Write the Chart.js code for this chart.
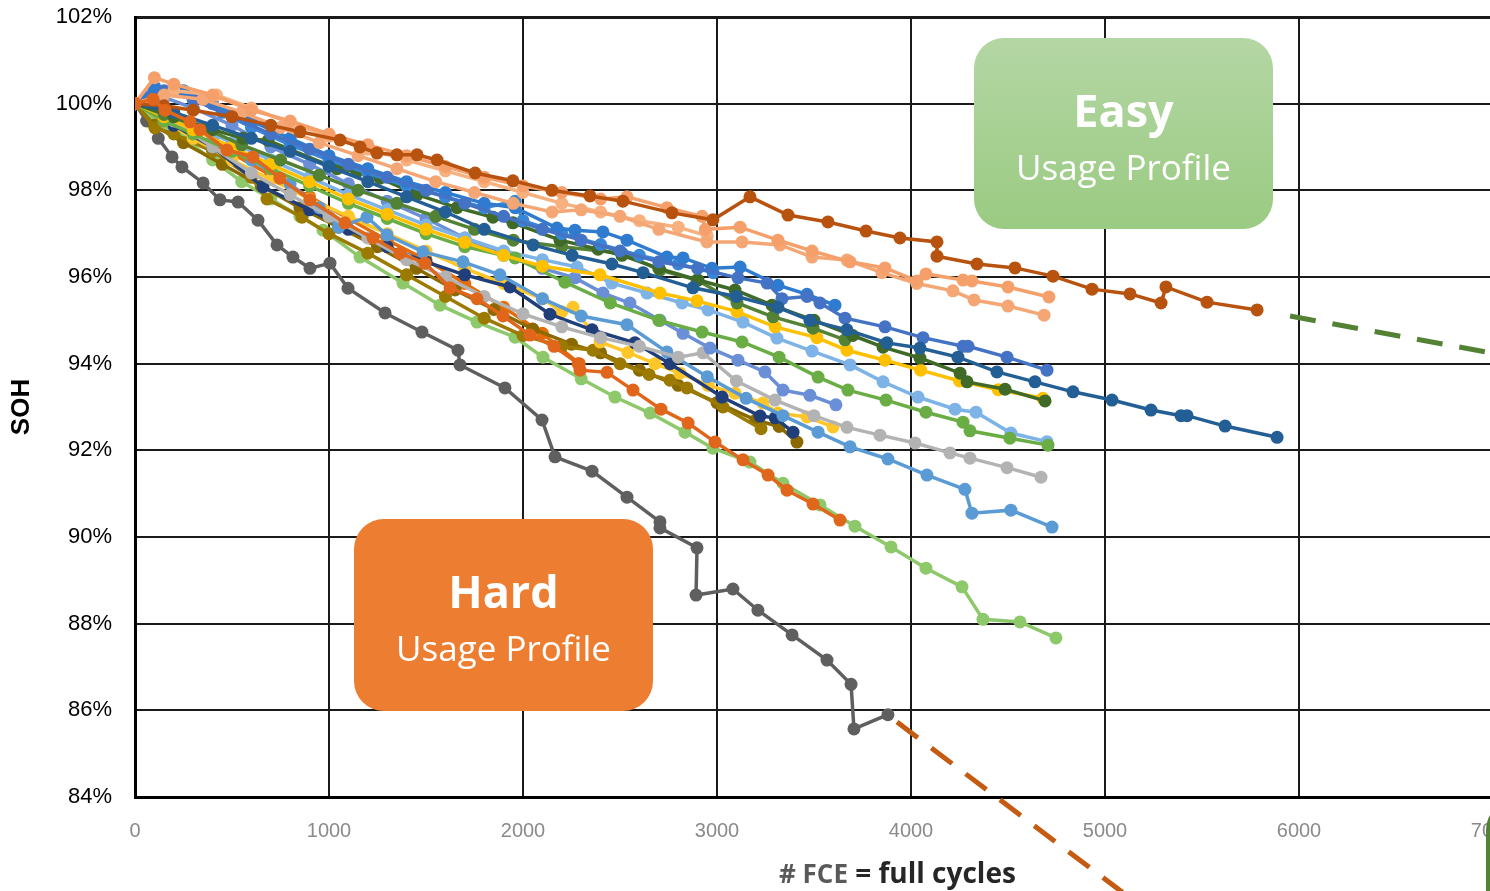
<!DOCTYPE html>
<html>
<head>
<meta charset="utf-8">
<title>SOH vs full cycles</title>
<script src="https://cdn.jsdelivr.net/npm/chart.js@4.4.1/dist/chart.umd.min.js"></script>
<style>
    html, body { margin: 0; padding: 0; background: #fff; overflow: hidden; }
    #wrap { position: relative; width: 1530px; height: 891px; }
    #chart { position: absolute; left: 0; top: 0; }
    .box {
        position: absolute; width: 299px; height: 191px; border-radius: 30px;
        color: #fff; text-align: center; font-family: 'Open Sans', sans-serif;
    }
    .box .big { position: absolute; left: 0; right: 0; top: 42px; font-size: 45px; font-weight: bold; line-height: 60px; }
    .box .small { position: absolute; left: 0; right: 0; top: 106px; font-size: 35px; line-height: 46px; }
    #easy { left: 974px; top: 38px; background: linear-gradient(#b4d6a4, #9acb82); }
    #hard { left: 354px; top: 519px; height: 192px; background: #ed7d31; }
    #edgeBox { position: absolute; left: 1486px; top: 800px; width: 200px; height: 200px; border: 4px solid #548235; border-radius: 30px; }
    #xTitle {
        position: absolute; left: 779px; top: 852px; white-space: nowrap;
        font-family: 'Open Sans', sans-serif; font-weight: bold; font-size: 28px; line-height: 40px; color: #262626;
    }
    #xTitle .fce { color: #595959; font-size: 26px; }
</style>
</head>
<body>
<div id="wrap">
    <canvas id="chart" width="1530" height="891"></canvas>
    <div class="box" id="easy"><div class="big">Easy</div><div class="small">Usage Profile</div></div>
    <div class="box" id="hard"><div class="big">Hard</div><div class="small">Usage Profile</div></div>
    <div id="edgeBox"></div>
    <div id="xTitle"><span class="fce"># FCE</span> = full cycles</div>
</div>
<script>
// Axis ranges and ticks
const xTicks = [0, 1000, 2000, 3000, 4000, 5000, 6000, 7000];
const yTicks = [84, 86, 88, 90, 92, 94, 96, 98, 100, 102];

// Each cell: [full cycles, SOH %]
const darkOrange = [[0,100],[150,99.95],[300,99.85],[500,99.7],[700,99.5],[851,99.35],[1057,99.16],[1160,99.0],[1247,98.86],[1350,98.82],[1454,98.82],[1557,98.7],[1753,98.4],[1948,98.22],[2149,98.0],[2345,97.87],[2515,97.75],[2768,97.48],[2979,97.32],[3170,97.85],[3366,97.43],[3572,97.27],[3768,97.06],[3943,96.9],[4134,96.81],[4134,96.48],[4340,96.3],[4536,96.21],[4732,96.02],[4933,95.72],[5129,95.61],[5289,95.4],[5314,95.77],[5526,95.42],[5784,95.24]];
const lightOrangeA = [[0,100],[100,100.6],[200,100.45],[400,100.2],[600,99.85],[800,99.6],[1000,99.3],[1200,99.05],[1400,98.8],[1600,98.55],[1800,98.3],[2000,98.1],[2200,97.95],[2400,97.8],[2536,97.85],[2742,97.6],[2923,97.4],[2940,97.1],[3119,97.15],[3314,96.85],[3490,96.6],[3686,96.35],[3866,96.21],[4031,95.91],[4077,96.07],[4268,95.93],[4314,95.91],[4500,95.77],[4711,95.54]];
const lightOrangeB = [[0,100],[150,100.2],[350,100.1],[550,99.8],[750,99.45],[950,99.1],[1150,98.8],[1350,98.5],[1550,98.2],[1750,97.95],[1950,97.7],[2150,97.5],[2300,97.55],[2500,97.4],[2700,97.1],[2948,96.81],[3129,96.81],[3325,96.74],[3490,96.46],[3670,96.39],[3850,96.1],[4030,95.85],[4216,95.68],[4325,95.47],[4500,95.33],[4686,95.12]];
const lightOrangeC = [[0,100],[200,100.3],[420,100.2],[600,99.9],[800,99.55],[1000,99.25],[1200,98.95],[1400,98.7],[1600,98.45],[1800,98.2],[2000,97.95],[2200,97.7],[2400,97.5],[2600,97.3],[2800,97.15],[2950,96.95]];
const steelBlue = [[0,100],[200,99.8],[400,99.5],[600,99.2],[800,98.9],[1000,98.55],[1200,98.2],[1400,97.85],[1600,97.5],[1800,97.1],[2052,96.74],[2253,96.5],[2458,96.3],[2619,96.1],[2876,95.75],[3100,95.55],[3314,95.3],[3479,95.0],[3670,94.78],[3876,94.48],[4046,94.36],[4242,94.15],[4443,93.81],[4639,93.58],[4835,93.35],[5036,93.16],[5237,92.93],[5392,92.8],[5423,92.8],[5619,92.56],[5887,92.3]];
const royalBlue = [[0,100],[150,100.3],[300,100.1],[500,99.7],[700,99.3],[900,98.95],[1100,98.6],[1300,98.3],[1500,98.0],[1700,97.7],[1900,97.4],[2100,97.1],[2300,96.85],[2500,96.6],[2700,96.35],[2900,96.2],[3108,95.98],[3258,95.86],[3335,95.5],[3464,95.55],[3531,95.4],[3660,95.05],[3866,94.85],[4062,94.6],[4268,94.4],[4294,94.4],[4495,94.15],[4701,93.85]];
const mediumBlue = [[0,100],[100,100.35],[250,100.3],[400,100.0],[600,99.6],[800,99.2],[1000,98.8],[1200,98.5],[1400,98.2],[1600,97.95],[1800,97.7],[1960,97.6],[2175,97.13],[2268,97.08],[2412,97.04],[2536,96.85],[2742,96.46],[2825,96.44],[2974,96.2],[3119,96.23],[3314,95.81],[3464,95.6],[3608,95.35]];
const blue2 = [[0,100],[100,100.4],[200,100.35],[300,100.1],[450,99.8],[600,99.45],[800,99.05],[1000,98.7],[1200,98.4],[1400,98.1],[1600,97.85],[1800,97.6],[1960,97.75],[2000,97.3],[2200,97.0],[2400,96.75],[2600,96.5],[2800,96.3],[2980,96.1]];
const lightGray = [[0,100],[200,99.6],[400,99.0],[600,98.4],[800,97.9],[1000,97.4],[1200,96.9],[1400,96.4],[1600,96.0],[1800,95.55],[2000,95.15],[2200,94.85],[2400,94.6],[2600,94.4],[2800,94.15],[2928,94.25],[3100,93.6],[3299,93.16],[3500,92.8],[3670,92.53],[3840,92.35],[4021,92.17],[4201,91.94],[4304,91.82],[4495,91.6],[4670,91.38]];
const blueStep = [[0,100],[200,99.7],[400,99.2],[600,98.7],[800,98.15],[950,97.6],[1050,97.15],[1196,97.38],[1299,96.97],[1485,96.58],[1691,96.35],[1881,96.05],[2100,95.5],[2300,95.1],[2536,94.9],[2742,94.27],[2950,93.7],[3150,93.2],[3340,92.8],[3521,92.42],[3686,92.08],[3881,91.8],[4082,91.43],[4278,91.1],[4314,90.55],[4515,90.62],[4727,90.23]];
const lightGreen = [[0,100],[100,99.6],[250,99.2],[400,98.7],[550,98.2],[700,97.8],[850,97.4],[969,97.08],[1160,96.46],[1381,95.86],[1572,95.35],[1763,94.96],[1959,94.61],[2103,94.15],[2300,93.65],[2474,93.23],[2655,92.86],[2835,92.42],[2979,92.05],[3170,91.73],[3340,91.24],[3531,90.74],[3711,90.25],[3897,89.77],[4077,89.28],[4263,88.85],[4371,88.1],[4562,88.04],[4747,87.67]];
const orange = [[0,100],[93,100.1],[155,99.85],[284,99.58],[335,99.4],[474,98.93],[608,98.77],[747,98.28],[902,97.78],[1082,97.25],[1227,96.9],[1366,96.55],[1495,96.32],[1624,95.75],[1763,95.5],[1897,95.1],[2036,94.66],[2160,94.4],[2284,94.0],[2294,93.85],[2433,93.8],[2567,93.39],[2711,92.95],[2851,92.63],[2990,92.19],[3134,91.78],[3263,91.43],[3361,91.08],[3495,90.76],[3634,90.39]];
const orange2 = [[0,100],[150,99.6],[300,99.3],[500,98.85],[700,98.35],[900,97.85],[1100,97.35],[1300,96.85],[1500,96.4],[1700,95.85],[1900,95.3],[2100,94.7],[2290,94.0]];
const olive1 = [[0,100],[103,99.44],[200,99.3],[400,98.9],[600,98.3],[680,97.8],[861,97.38],[1000,97.0],[1200,96.55],[1400,96.05],[1600,95.55],[1800,95.05],[2000,94.65],[2200,94.4],[2361,94.31],[2500,94.0],[2650,93.75],[2758,93.62],[2845,93.44],[3031,93.0],[3227,92.5]];
const olive2 = [[0,100],[100,99.5],[250,99.1],[450,98.6],[650,98.1],[850,97.6],[1050,97.15],[1250,96.7],[1450,96.2],[1650,95.7],[1850,95.25],[2050,94.8],[2250,94.45],[2400,94.25],[2600,93.85],[2800,93.5],[3000,93.1],[3200,92.7],[3320,92.55],[3412,92.19]];
const navy = [[0,100],[200,99.5],[400,99.0],[660,98.08],[900,97.55],[1100,97.1],[1300,96.7],[1500,96.35],[1700,96.05],[1933,95.77],[2139,95.14],[2356,94.78],[2577,94.48],[2758,94.0],[3026,93.23],[3222,92.79],[3300,92.75],[3392,92.42]];
const yellow1 = [[0,100],[150,99.6],[300,99.2],[500,98.7],[700,98.25],[900,97.8],[1100,97.4],[1300,97.0],[1500,96.6],[1700,96.2],[1900,95.85],[2100,95.5],[2200,95.2],[2258,95.3],[2397,94.5],[2541,94.26],[2680,94.0],[2809,93.78],[2954,93.5],[3093,93.32],[3237,93.09],[3314,92.86],[3464,92.77],[3598,92.54]];
const yellow2 = [[0,100],[150,99.7],[300,99.4],[500,99.0],[700,98.6],[900,98.2],[1100,97.8],[1300,97.45],[1500,97.1],[1700,96.8],[1900,96.5],[2100,96.25],[2397,96.05],[2706,95.63],[2897,95.45],[3103,95.2],[3300,94.85],[3515,94.6],[3670,94.31],[3866,94.08],[4050,93.85],[4250,93.6],[4450,93.4],[4680,93.2]];
const darkGreen = [[0,100],[200,99.7],[400,99.4],[557,99.2],[686,99.15],[1041,98.5],[1144,98.43],[1263,98.28],[1454,97.9],[1660,97.6],[1845,97.38],[1948,97.25],[2191,96.85],[2387,96.64],[2510,96.5],[2700,96.2],[2902,95.93],[3093,95.7],[3284,95.35],[3500,95.0],[3700,94.65],[3856,94.38],[4046,94.13],[4253,93.78],[4289,93.58],[4485,93.41],[4691,93.14]];
const darkGreen2 = [[0,100],[150,99.75],[350,99.45],[550,99.05],[750,98.7],[950,98.35],[1150,98.0],[1350,97.7],[1550,97.4],[1750,97.1],[1950,96.85],[2200,96.7],[2510,96.55],[2706,96.16],[2897,95.93],[3103,95.4],[3289,95.08],[3495,94.82],[3660,94.55]];
const green = [[0,100],[150,99.6],[300,99.3],[500,98.9],[700,98.5],[900,98.1],[1100,97.7],[1300,97.35],[1500,97.0],[1700,96.7],[1959,96.44],[2216,95.88],[2450,95.4],[2700,95.0],[2923,94.73],[3129,94.5],[3320,94.15],[3521,93.69],[3675,93.39],[3871,93.16],[4077,92.88],[4268,92.65],[4304,92.45],[4510,92.28],[4706,92.12]];
const lightBlue = [[0,100],[150,99.8],[300,99.5],[500,99.1],[700,98.7],[900,98.3],[1100,97.9],[1300,97.55],[1500,97.2],[1700,96.9],[1900,96.6],[2100,96.4],[2278,96.23],[2458,95.86],[2639,95.63],[2820,95.4],[2954,95.24],[3134,94.96],[3309,94.59],[3490,94.29],[3686,93.97],[3856,93.58],[4036,93.23],[4227,92.95],[4335,92.88],[4515,92.4],[4701,92.2]];
const periwinkle = [[0,100],[120,100.2],[300,99.9],[500,99.5],[700,99.0],[900,98.6],[1100,98.15],[1300,97.75],[1500,97.35],[1700,96.9],[1900,96.5],[2100,96.2],[2268,95.98],[2412,95.63],[2551,95.4],[2706,95.0],[2825,94.7],[2964,94.36],[3108,94.08],[3247,93.81],[3340,93.39],[3479,93.27],[3613,93.05]];
const darkGray = [[0,100],[60,99.6],[120,99.2],[191,98.77],[242,98.54],[351,98.17],[438,97.78],[531,97.73],[634,97.31],[732,96.74],[814,96.46],[902,96.2],[1005,96.32],[1098,95.74],[1289,95.17],[1479,94.73],[1665,94.31],[1675,93.97],[1907,93.44],[2098,92.7],[2165,91.85],[2356,91.52],[2536,90.92],[2706,90.35],[2706,90.21],[2897,89.75],[2892,88.66],[3082,88.8],[3211,88.31],[3387,87.74],[3567,87.16],[3691,86.6],[3706,85.57],[3881,85.9]];

// First in the list is drawn on top
const seriesList = [orange, darkOrange, lightOrangeA, lightOrangeB, lightOrangeC, steelBlue, royalBlue, mediumBlue, blue2,
    darkGreen, darkGreen2, yellow2, green, lightBlue, periwinkle, lightGray, blueStep, navy, yellow1, olive1, olive2,
    orange2, lightGreen, darkGray];
const seriesColors = ['#e0661c', '#b8520f', '#f5a06a', '#f4a775', '#f7b07e', '#235e95', '#4472c4', '#2f7bd0', '#3a86d6',
    '#3f6a27', '#548235', '#ffc000', '#6aad45', '#7db3e6', '#6a8fd6', '#b3b3b3', '#5b9bd5', '#203f7a', '#ffc62a', '#9c7a00', '#8a6a00',
    '#e46c0a', '#8dc86a', '#5f5f5f'];

// Annotation arrows in data units
const easyArrow = [[5954, 95.1], [7000, 94.24]];
const hardArrow = [[3928, 85.73], [5090, 81.8]];

// Draws the dashed pointer lines next to the profile boxes
const arrowPlugin = {
    id: 'arrowPlugin',
    afterDraw(chart) {
        const ctx = chart.ctx;
        const x = chart.scales.x;
        const y = chart.scales.y;
        function dashed(points, color) {
            ctx.save();
            ctx.strokeStyle = color;
            ctx.lineWidth = 5;
            ctx.setLineDash([26, 17]);
            ctx.beginPath();
            ctx.moveTo(x.getPixelForValue(points[0][0]), y.getPixelForValue(points[0][1]));
            ctx.lineTo(x.getPixelForValue(points[1][0]), y.getPixelForValue(points[1][1]));
            ctx.stroke();
            ctx.restore();
        }
        dashed(easyArrow, '#548235');
        dashed(hardArrow, '#c55a11');
    }
};

function buildDatasets() {
    return seriesList.map((series, i) => ({
        data: series.map(p => ({ x: p[0], y: p[1] })),
        showLine: true,
        borderColor: seriesColors[i],
        backgroundColor: seriesColors[i],
        borderWidth: 3.5,
        pointRadius: 6.5,
        pointBorderWidth: 0,
        pointBackgroundColor: seriesColors[i]
    }));
}

function drawChart() {
    const ctx = document.getElementById('chart').getContext('2d');
    new Chart(ctx, {
        type: 'scatter',
        data: { datasets: buildDatasets() },
        options: {
            responsive: false,
            animation: false,
            layout: { padding: { left: 0, right: 37, top: 17, bottom: 0 } },
            scales: {
                x: {
                    type: 'linear',
                    min: xTicks[0],
                    max: xTicks[xTicks.length - 1],
                    afterBuildTicks: scale => { scale.ticks = xTicks.map(v => ({ value: v })); },
                    afterFit: scale => {
                        scale.height = 94;
                        scale.paddingLeft = 0;
                        scale.paddingRight = 0;
                    },
                    ticks: {
                        color: '#8a8a8a',
                        padding: 22,
                        font: { family: 'Liberation Sans', size: 20 },
                        callback: v => String(v)
                    },
                    grid: { color: '#1a1a1a', lineWidth: 2, drawTicks: false },
                    border: { color: '#000', width: 3 }
                },
                y: {
                    type: 'linear',
                    min: yTicks[0],
                    max: yTicks[yTicks.length - 1],
                    afterBuildTicks: scale => { scale.ticks = yTicks.map(v => ({ value: v })); },
                    afterFit: scale => {
                        scale.width = 135;
                        scale.paddingTop = 0;
                        scale.paddingBottom = 0;
                    },
                    ticks: {
                        color: '#000',
                        padding: 23,
                        font: { family: 'Liberation Sans', size: 22 },
                        callback: v => v + '%'
                    },
                    grid: {
                        color: '#1a1a1a',
                        lineWidth: c => (c.tick && c.tick.value === 102 ? 3 : 2), // heavier top edge
                        drawTicks: false
                    },
                    border: { color: '#000', width: 3 },
                    title: {
                        display: true,
                        text: 'SOH',
                        color: '#000',
                        padding: { top: 6, bottom: 0 },
                        font: { family: 'Liberation Sans', size: 26, weight: 'bold' }
                    }
                }
            },
            plugins: {
                legend: { display: false },
                tooltip: { enabled: false }
            }
        },
        plugins: [arrowPlugin]
    });
}

document.addEventListener('DOMContentLoaded', function() {
    drawChart();
});
</script>
</body>
</html>
